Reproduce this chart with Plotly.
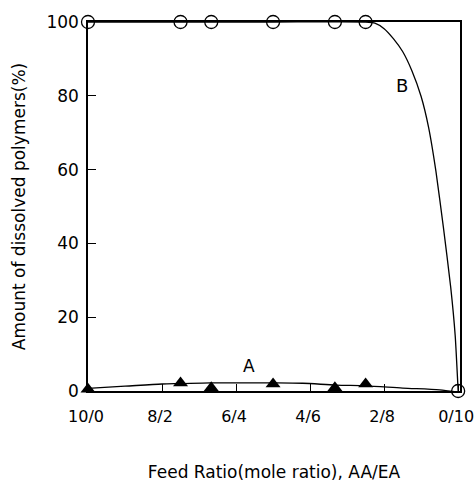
import plotly.graph_objects as go

# Data
x_ticks = [0, 2, 4, 6, 8, 10]
x_tick_labels = ["10/0", "8/2", "6/4", "4/6", "2/8", "0/10"]
y_ticks = [0, 20, 40, 60, 80, 100]

# Series A (filled triangles)
a_x = [0, 2.5, 3.33, 5, 6.67, 7.5, 10]
a_y = [0.5, 2.2, 0.9, 1.9, 0.9, 1.9, -1.0]
# Fitted curve A
a_curve_x = [0, 1, 2, 2.5, 3.3, 4.2, 5, 5.8, 6.7, 7.5, 8.5, 9.5, 10]
a_curve_y = [0.7, 1.3, 1.9, 2.0, 2.2, 2.2, 2.2, 2.1, 1.6, 1.4, 0.8, 0.3, -0.3]

# Series B (open circles)
b_x = [0, 2.5, 3.33, 5, 6.67, 7.5, 10]
b_y = [100, 100, 100, 100, 100, 100, 0]
# Fitted curve B
b_curve_x = [0, 5, 7.5, 7.75, 8.0, 8.25, 8.5, 8.75, 9.0, 9.2, 9.4, 9.6, 9.8, 9.92, 10]
b_curve_y = [100, 100, 100, 99.7, 98.2, 95.5, 92.0, 86.8, 79.8, 71.5, 59.5, 44.5, 28.0, 15.0, 0]

FONT = "DejaVu Sans"

fig = go.Figure()
fig.add_trace(go.Scatter(x=a_curve_x, y=a_curve_y, mode="lines",
                         line=dict(color="black", width=1.3, shape="spline", smoothing=0.8),
                         cliponaxis=False, showlegend=False, hoverinfo="skip"))
fig.add_trace(go.Scatter(x=b_curve_x, y=b_curve_y, mode="lines",
                         line=dict(color="black", width=1.3, shape="spline", smoothing=0.5),
                         cliponaxis=False, showlegend=False, hoverinfo="skip"))
fig.add_trace(go.Scatter(x=a_x, y=a_y, mode="markers",
                         marker=dict(symbol="triangle-up", size=13, color="black",
                                     line=dict(width=0)),
                         cliponaxis=False, showlegend=False))
fig.add_trace(go.Scatter(x=b_x, y=b_y, mode="markers",
                         marker=dict(symbol="circle-open", size=13, color="black",
                                     line=dict(width=1.3)),
                         cliponaxis=False, showlegend=False))

fig.add_annotation(x=8.49, y=82.9, text="B", showarrow=False,
                   font=dict(family=FONT, size=18, color="black"))
fig.add_annotation(x=4.35, y=6.8, text="A", showarrow=False,
                   font=dict(family=FONT, size=17, color="black"))

fig.update_layout(
    width=475, height=482,
    margin=dict(l=88, r=15, t=22, b=91),
    plot_bgcolor="white", paper_bgcolor="white",
    font=dict(family=FONT, size=17, color="black"),
    showlegend=False,
)
fig.update_xaxes(
    range=[0, 10.05], tickvals=x_ticks, ticktext=x_tick_labels,
    ticks="inside", ticklen=7, tickwidth=1.2, tickcolor="black",
    showline=True, linecolor="black", linewidth=1.5, mirror=True,
    showgrid=False, zeroline=False, ticklabelstandoff=10,
    ticklabelshift=-2, tickfont=dict(family=FONT, size=16),
    ticklabeloverflow="allow", automargin=False,
    title=dict(text="Feed Ratio(mole ratio), AA/EA", standoff=42,
               font=dict(family=FONT, size=17)),
)
fig.update_yaxes(
    range=[0, 100], tickvals=y_ticks,
    ticks="inside", ticklen=8, tickwidth=1.2, tickcolor="black",
    showline=True, linecolor="black", linewidth=1.5, mirror=True,
    showgrid=False, zeroline=False, ticklabelstandoff=4,
    automargin=False,
    title=dict(text="Amount of dissolved polymers(%)", standoff=16,
               font=dict(family=FONT, size=17)),
)

fig.write_html("out.html")
